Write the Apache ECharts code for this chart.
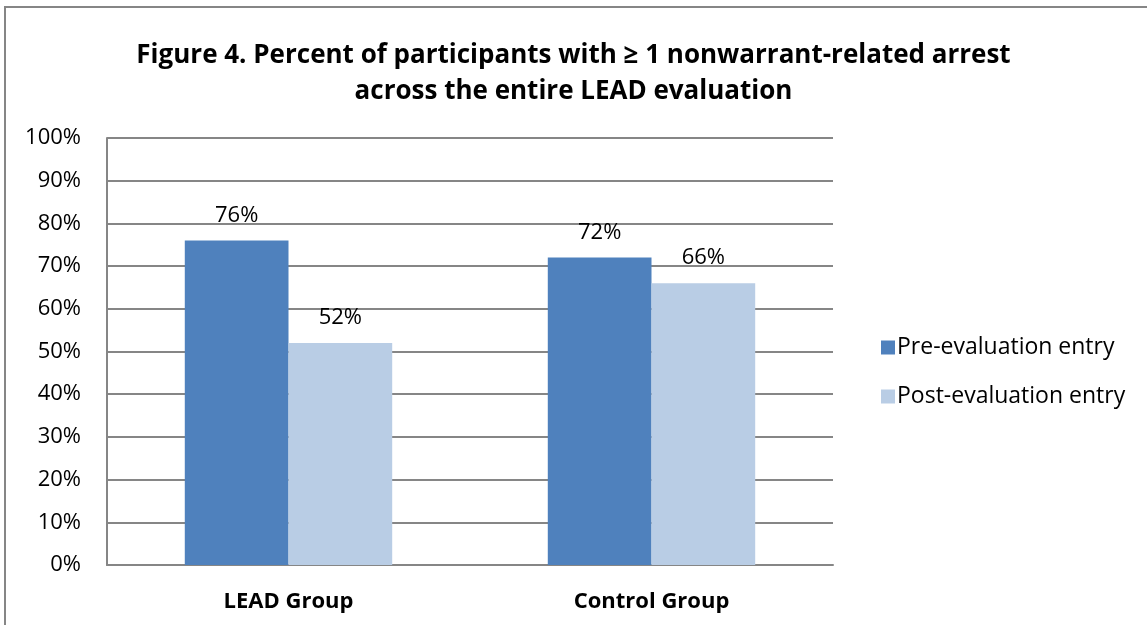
<!DOCTYPE html>
<html><head><meta charset="utf-8">
<script src="https://cdn.jsdelivr.net/npm/echarts@6/dist/echarts.min.js"></script>
<style>html,body{margin:0;padding:0;background:#fff}#c{width:1147px;height:625px}</style>
</head><body><div id="c"></div>
<script>
const categories = ['LEAD Group', 'Control Group'];
const preEntry = [76, 72];
const postEntry = [52, 66];
const seriesNames = ['Pre-evaluation entry', 'Post-evaluation entry'];
const titleText = 'Figure 4. Percent of participants with \u2265 1 nonwarrant-related arrest\nacross the entire LEAD evaluation';

const FONT = '"Open Sans", sans-serif';
const chart = echarts.init(document.getElementById('c'), null, {renderer: 'canvas'});
const labelStyle = {show: true, position: 'top', distance: 14, formatter: '{c}%', color: '#000', fontFamily: FONT, fontSize: 22};
chart.setOption({
  animation: false,
  graphic: [{
    type: 'polyline', shape: {points: [[5, 700], [5, 7], [1200, 7]]},
    style: {stroke: '#868686', lineWidth: 2, fill: null}, silent: true
  }],
  title: {
    text: titleText, left: 'center', top: 33,
    textStyle: {fontFamily: FONT, fontWeight: 'bold', fontSize: 26, lineHeight: 36, color: '#000'}
  },
  legend: {
    orient: 'vertical', left: 876, top: 331, itemWidth: 14, itemHeight: 14, itemGap: 26,
    icon: 'rect',
    textStyle: {fontFamily: FONT, fontSize: 23, color: '#000', padding: [0, 0, 0, -3]},
    data: seriesNames
  },
  grid: {left: 107, right: 314, top: 138, bottom: 60, containLabel: false},
  xAxis: {
    type: 'category', data: categories,
    axisLine: {lineStyle: {color: '#868686', width: 2}},
    axisTick: {show: false},
    axisLabel: {fontFamily: FONT, fontWeight: 'bold', fontSize: 22, color: '#000', margin: 26}
  },
  yAxis: {
    type: 'value', min: 0, max: 100, interval: 10,
    axisLine: {show: true, lineStyle: {color: '#868686', width: 2}},
    axisTick: {show: false},
    axisLabel: {formatter: '{value}%', fontFamily: FONT, fontSize: 22, color: '#000', margin: 26},
    splitLine: {lineStyle: {color: '#868686', width: 2}}
  },
  series: [
    {name: seriesNames[0], type: 'bar', data: preEntry, barWidth: '28.57%', barGap: '0%',
     itemStyle: {color: '#4F81BD'}, label: labelStyle},
    {name: seriesNames[1], type: 'bar', data: postEntry, barWidth: '28.57%', barGap: '0%',
     itemStyle: {color: '#B9CDE5'}, label: labelStyle}
  ]
});
</script></body></html>
